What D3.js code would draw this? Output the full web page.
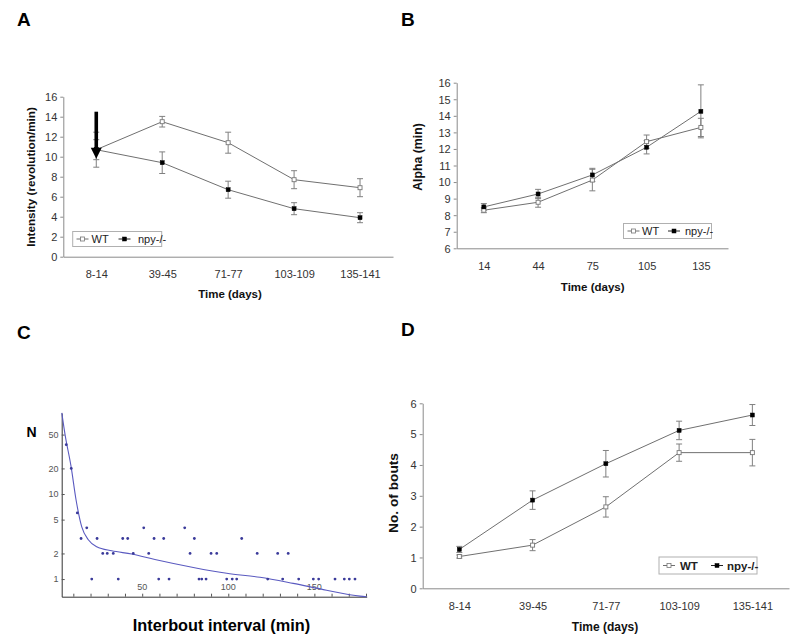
<!DOCTYPE html>
<html>
<head>
<meta charset="utf-8">
<script src="https://cdn.jsdelivr.net/npm/d3@7/dist/d3.min.js"></script>
<style>
  html, body { margin: 0; padding: 0; background: #fff; }
  svg { display: block; }
  text { font-family: "Liberation Sans", Arial, sans-serif; }
</style>
</head>
<body>
<svg id="chart" width="800" height="641"></svg>
<script>
// ---------------- DATA ----------------
const timeBins = ["8-14", "39-45", "71-77", "103-109", "135-141"];
const alphaDays = ["14", "44", "75", "105", "135"];
const seriesNames = ["WT", "npy-/-"];

// Panel A: intensity (revolution/min)
const intensityWT = [10.7, 13.5, 11.4, 7.7, 6.9];
const intensityWTErr = [1.75, 0.53, 1.05, 0.9, 0.9];
const intensityNpy = [10.7, 9.4, 6.7, 4.8, 3.9];
const intensityNpyErr = [1.0, 1.08, 0.85, 0.6, 0.5];
const intensityTicks = [0, 2, 4, 6, 8, 10, 12, 14, 16];
const arrowFromTo = [14.5, 9.8]; // annotation arrow at first time bin

// Panel B: alpha (min)
const alphaWT = [8.3, 8.78, 10.12, 12.44, 13.3];
const alphaWTErr = [0.15, 0.3, 0.65, 0.4, 0.55];
const alphaNpy = [8.5, 9.28, 10.43, 12.1, 14.27];
const alphaNpyErr = [0.2, 0.28, 0.4, 0.4, 1.6];
const alphaTicks = [6, 7, 8, 9, 10, 11, 12, 13, 14, 15, 16];

// Panel C: interbout interval distribution
const intervalX = [5.9, 8.8, 12.3,
  17.8, 50.9, 74.7,
  14.5, 23.8, 38.7, 41.6, 56.9, 62.5, 80.3, 107.8,
  27.1, 29.7, 33.2, 44.8, 53.8, 77.8, 90, 93.3, 116.8, 128.7, 134.8,
  20.7, 36.1, 59.6, 65.6, 83, 84.6, 87.1, 99.1, 102.3, 104.9, 122.9, 131.6, 140.9, 149.4, 152.5, 162, 167.4, 170.3, 173.6];
const intervalN = [38, 20, 6,
  4, 4, 4,
  3, 3, 3, 3, 3, 3, 3, 3,
  2, 2, 2, 2, 2, 2, 2, 2, 2, 2, 2,
  1, 1, 1, 1, 1, 1, 1, 1, 1, 1, 1, 1, 1, 1, 1, 1, 1, 1, 1];
const fitX = [3.3, 5.2, 8.7, 11.6, 14.9, 18.7, 23.6, 32.3, 43.9, 57.4, 79.7, 99.1, 118.4, 137.7, 157.1, 176.5, 180.4];
const fitN = [90, 50, 21, 8.5, 4.1, 2.9, 2.4, 2.15, 1.97, 1.7, 1.37, 1.17, 1.05, 0.89, 0.74, 0.63, 0.62];
const intervalXTicks = [50, 100, 150];
const intervalNTicks = [1, 2, 5, 10, 20, 50];

// Panel D: number of bouts
const boutsWT = [1.03, 1.4, 2.64, 4.4, 4.4];
const boutsWTErr = [0.05, 0.18, 0.33, 0.28, 0.43];
const boutsNpy = [1.26, 2.86, 4.04, 5.12, 5.62];
const boutsNpyErr = [0.1, 0.3, 0.43, 0.3, 0.34];
const boutsTicks = [0, 1, 2, 3, 4, 5, 6];

// ---------------- DRAWING ----------------
const svg = d3.select("#chart");
const AXIS = "#8a8a8a";
const LINE = "#707070";
const ERR = "#808080";
const TXT = "#333";

function panelLabel(txt, x, y) {
  svg.append("text").attr("x", x).attr("y", y).text(txt)
    .attr("font-size", 19).attr("font-weight", "bold").attr("fill", "#000");
}

function linePanel(o) {
  const g = svg.append("g");
  const x = d3.scalePoint().domain(o.cats).range([o.x0, o.x1]).padding(0.5);
  const y = d3.scaleLinear().domain(o.ydom).range([o.y1, o.y0]);

  // axes
  const ya = g.append("g").attr("transform", `translate(${o.x0},0)`)
    .call(d3.axisLeft(y).tickValues(o.yticks).tickFormat(d3.format("d"))
      .tickSize(3).tickSizeOuter(0).tickPadding(3));
  const xa = g.append("g").attr("transform", `translate(0,${o.y1})`)
    .call(d3.axisBottom(x).tickSize(0).tickSizeOuter(0));
  [ya, xa].forEach(a => {
    a.select(".domain").attr("stroke", AXIS);
    a.selectAll(".tick line").attr("stroke", AXIS);
    a.selectAll("text").attr("fill", TXT).attr("font-size", o.tickFs)
      .attr("font-family", "Liberation Sans, Arial, sans-serif");
  });
  xa.selectAll("text").attr("dy", null).attr("y", o.xLabGap);
  ya.selectAll("text").attr("dy", "0.35em");

  // titles
  g.append("text").attr("x", o.xTitleX).attr("y", o.xTitleY)
    .attr("text-anchor", "middle").attr("font-weight", "bold")
    .attr("font-size", o.titleFs).attr("fill", "#111").text(o.xTitle);
  g.append("text").attr("transform", `translate(${o.yTitleX},${o.yTitleY}) rotate(-90)`)
    .attr("text-anchor", "middle").attr("font-weight", "bold")
    .attr("font-size", o.yTitleFs).attr("fill", "#111").text(o.yTitle);

  // series
  const series = [
    { vals: o.wt, err: o.wtErr, filled: false },
    { vals: o.npy, err: o.npyErr, filled: true }
  ];
  const line = d3.line().x((d, i) => x(o.cats[i])).y(d => y(d));
  series.forEach(s => {
    const eb = g.append("g");
    s.vals.forEach((v, i) => {
      const cx = x(o.cats[i]);
      const lo = y(v - s.err[i]), hi = y(v + s.err[i]);
      eb.append("line").attr("x1", cx).attr("x2", cx).attr("y1", lo).attr("y2", hi)
        .attr("stroke", ERR).attr("stroke-width", 1);
      [lo, hi].forEach(yy => eb.append("line").attr("x1", cx - 3).attr("x2", cx + 3)
        .attr("y1", yy).attr("y2", yy).attr("stroke", ERR).attr("stroke-width", 1));
    });
  });
  series.forEach(s => {
    g.append("path").datum(s.vals).attr("d", line).attr("fill", "none")
      .attr("stroke", LINE).attr("stroke-width", 1);
  });
  series.forEach(s => {
    g.selectAll(null).data(s.vals).enter().append("rect")
      .attr("x", (d, i) => x(o.cats[i]) - 2).attr("y", d => y(d) - 2)
      .attr("width", 4).attr("height", 4)
      .attr("fill", s.filled ? "#000" : "#fff")
      .attr("stroke", s.filled ? "#000" : "#777").attr("stroke-width", s.filled ? 0.5 : 0.9);
  });

  // legend
  const L = o.legend;
  const lg = g.append("g");
  lg.append("rect").attr("x", L.x).attr("y", L.y).attr("width", L.w).attr("height", L.h)
    .attr("fill", "#fff").attr("stroke", "#b0b0b0").attr("stroke-width", 1);
  const my = L.y + L.h / 2;
  L.items.forEach((it, k) => {
    lg.append("line").attr("x1", it.lx).attr("x2", it.lx + 12).attr("y1", my).attr("y2", my)
      .attr("stroke", k === 0 ? LINE : "#222").attr("stroke-width", 1);
    lg.append("rect").attr("x", it.lx + 6 - 2).attr("y", my - 2).attr("width", 4).attr("height", 4)
      .attr("fill", k === 0 ? "#fff" : "#000").attr("stroke", k === 0 ? "#777" : "#000")
      .attr("stroke-width", k === 0 ? 0.8 : 0.5);
    lg.append("text").attr("x", it.tx).attr("y", my + 4).attr("font-size", L.fs)
      .attr("font-weight", L.bold ? "bold" : "normal").attr("fill", "#222").text(seriesNames[k]);
  });
  return { g, x, y };
}

// ----- Panel A -----
panelLabel("A", 17, 26);
const pA = linePanel({
  cats: timeBins, x0: 63.3, x1: 393, y0: 96.7, y1: 256.7, ydom: [0, 16], yticks: intensityTicks,
  wt: intensityWT, wtErr: intensityWTErr, npy: intensityNpy, npyErr: intensityNpyErr,
  tickFs: 11, titleFs: 11.5, yTitleFs: 11.7, xLabGap: 21.5,
  xTitle: "Time (days)", xTitleX: 230, xTitleY: 297.5,
  yTitle: "Intensity (revolution/min)", yTitleX: 34.5, yTitleY: 177,
  legend: { x: 72.7, y: 231.5, w: 89, h: 15, fs: 11, bold: false,
    items: [{ lx: 76.5, tx: 91.5 }, { lx: 118.5, tx: 138 }] }
});
// arrow annotation (data units)
{
  const ax = pA.x(timeBins[0]);
  const yTop = pA.y(arrowFromTo[0]), yTip = pA.y(arrowFromTo[1]);
  pA.g.append("line").attr("x1", ax).attr("x2", ax).attr("y1", yTop).attr("y2", yTip - 10)
    .attr("stroke", "#000").attr("stroke-width", 3.6);
  pA.g.append("path")
    .attr("d", `M${ax - 5.5},${yTip - 11} L${ax + 5.5},${yTip - 11} L${ax},${yTip} Z`)
    .attr("fill", "#000");
}

// ----- Panel B -----
panelLabel("B", 401, 26);
linePanel({
  cats: alphaDays, x0: 456.7, x1: 728, y0: 82.7, y1: 248.3, ydom: [6, 16], yticks: alphaTicks,
  wt: alphaWT, wtErr: alphaWTErr, npy: alphaNpy, npyErr: alphaNpyErr,
  tickFs: 11, titleFs: 11.5, yTitleFs: 12.3, xLabGap: 21.5,
  xTitle: "Time (days)", xTitleX: 592.7, xTitleY: 291,
  yTitle: "Alpha (min)", yTitleX: 421.5, yTitleY: 157,
  legend: { x: 623.5, y: 223.5, w: 88, h: 15, fs: 11, bold: false,
    items: [{ lx: 627.5, tx: 642 }, { lx: 668, tx: 685 }] }
});

// ----- Panel D -----
panelLabel("D", 401, 336);
linePanel({
  cats: timeBins, x0: 422.7, x1: 789, y0: 403.3, y1: 588.3, ydom: [0, 6], yticks: boutsTicks,
  wt: boutsWT, wtErr: boutsWTErr, npy: boutsNpy, npyErr: boutsNpyErr,
  tickFs: 11, titleFs: 12, yTitleFs: 13.7, xLabGap: 21.7,
  xTitle: "Time (days)", xTitleX: 605, xTitleY: 630.5,
  yTitle: "No. of bouts", yTitleX: 397.5, yTitleY: 493,
  legend: { x: 659, y: 557, w: 98, h: 17, fs: 11.5, bold: true,
    items: [{ lx: 663, tx: 680 }, { lx: 711, tx: 727 }] }
});

// ----- Panel C -----
panelLabel("C", 17, 339);
{
  const g = svg.append("g");
  const x = d3.scaleLinear().domain([3.25, 180.4]).range([61.7, 366.7]);
  const y = d3.scaleLog().domain([0.62, 89.7]).range([596.7, 413]);
  const xa = g.append("g").attr("transform", "translate(0,596.7)")
    .call(d3.axisTop(x).tickValues(d3.range(10, 181, 10)).tickSize(3).tickSizeOuter(0).tickFormat(""));
  const ya = g.append("g").attr("transform", "translate(61.7,0)")
    .call(d3.axisRight(y).tickValues(intervalNTicks).tickSize(3).tickSizeOuter(0).tickFormat(""));
  [xa, ya].forEach(a => {
    a.select(".domain").attr("stroke", "#333");
    a.selectAll(".tick line").attr("stroke", "#555");
  });
  g.selectAll(null).data(intervalXTicks).enter().append("text")
    .attr("x", d => x(d)).attr("y", 590).attr("text-anchor", "middle")
    .attr("font-family", "Liberation Serif, serif").attr("font-size", 9).attr("fill", "#555")
    .text(d => d);
  g.selectAll(null).data(intervalNTicks).enter().append("text")
    .attr("x", 58.5).attr("y", d => y(d)).attr("dy", "0.35em").attr("text-anchor", "end")
    .attr("font-family", "Liberation Serif, serif").attr("font-size", 9).attr("fill", "#555")
    .text(d => d);
  const fit = fitX.map((v, i) => [v, fitN[i]]);
  g.append("path").datum(fit)
    .attr("d", d3.line().x(d => x(d[0])).y(d => y(d[1])).curve(d3.curveMonotoneX))
    .attr("fill", "none").attr("stroke", "#5a5ac0").attr("stroke-width", 1.1);
  g.selectAll(null).data(intervalX).enter().append("circle")
    .attr("cx", d => x(d)).attr("cy", (d, i) => y(intervalN[i])).attr("r", 1.4)
    .attr("fill", "#3a3a9a");
  g.append("text").attr("x", 26.5).attr("y", 436.5).attr("font-weight", "bold")
    .attr("font-size", 14).attr("fill", "#000").text("N");
  g.append("text").attr("x", 221.5).attr("y", 631).attr("text-anchor", "middle")
    .attr("font-weight", "bold").attr("font-size", 16.3).attr("fill", "#000")
    .text("Interbout interval (min)");
}
</script>
</body>
</html>
